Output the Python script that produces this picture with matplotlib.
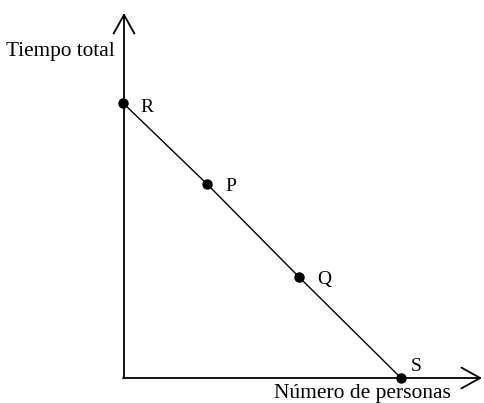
import matplotlib
matplotlib.use("Agg")
import matplotlib.pyplot as plt

# Data (number of people vs total time, arbitrary units)
labels = ["R", "P", "Q", "S"]
personas = [0.0, 8.4, 17.6, 27.8]
tiempo = [27.5, 19.4, 10.1, 0.0]
label_offsets = [(17.3, -6.5), (17.0, -5.0), (18.0, -5.0), (10.8, 5.0)]  # points
xlabel = "Número de personas"
ylabel = "Tiempo total"

plt.rcParams['font.family'] = ['Liberation Serif', 'DejaVu Serif']

fig = plt.figure(figsize=(4.85, 4.03), dpi=100)
ax = fig.add_axes([0, 0, 1, 1])
ax.set_xlim(-12.3, 36.2)
ax.set_ylim(-2.5, 37.8)
ax.axis('off')

arrow = dict(arrowstyle="->,head_length=1.35,head_width=0.75", lw=1.3,
             color='black', mutation_scale=10, shrinkA=0, shrinkB=0)
# y axis
ax.annotate("", xy=(0.1, 36.5), xytext=(0.1, 0), arrowprops=arrow)
# x axis
ax.annotate("", xy=(35.9, 0), xytext=(0, 0), arrowprops=arrow)

ax.plot(personas, tiempo, color='black', lw=1.0, solid_capstyle='butt')
ax.plot(personas, tiempo, 'o', color='black', markersize=6.5, clip_on=False)

for lab, x, y, off in zip(labels, personas, tiempo, label_offsets):
    ax.annotate(lab, xy=(x, y), xytext=off, textcoords='offset points',
                ha='center', va='baseline', fontsize=14)

ax.text(-0.8, 32.2, ylabel, ha='right', va='baseline', fontsize=15.3)
ax.text(15.1, -2.0, xlabel, ha='left', va='baseline', fontsize=15.5)

fig.savefig("out.png", dpi=100)
